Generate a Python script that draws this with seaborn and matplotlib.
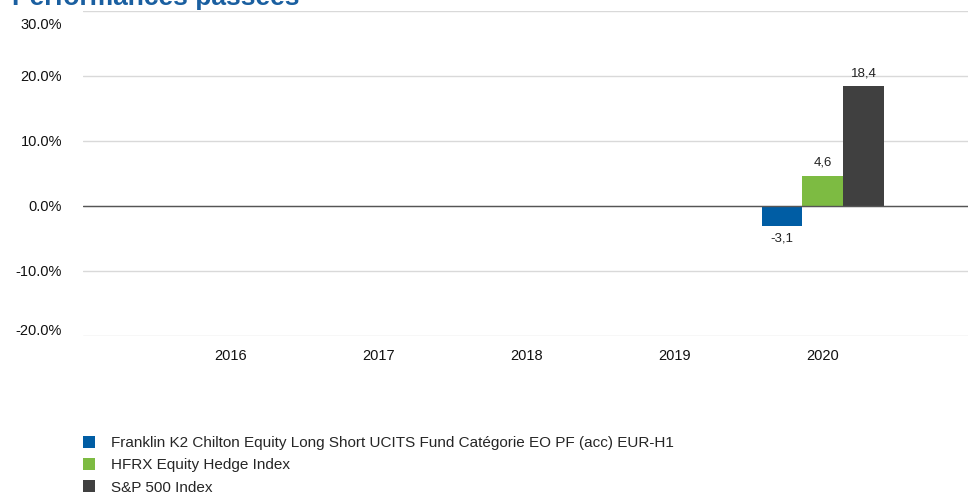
import numpy as np
import pandas as pd
import matplotlib
matplotlib.use("Agg")
import matplotlib.pyplot as plt
import matplotlib.transforms as mtransforms
from matplotlib.patches import Patch
import seaborn as sns

# data
years = ["2016", "2017", "2018", "2019", "2020"]
fund = [np.nan, np.nan, np.nan, np.nan, -3.1]
hfrx = [np.nan, np.nan, np.nan, np.nan, 4.6]
spx = [np.nan, np.nan, np.nan, np.nan, 18.4]
series_names = ["Franklin K2 Chilton Equity Long Short UCITS Fund Catégorie EO PF (acc) EUR-H1",
                "HFRX Equity Hedge Index",
                "S&P 500 Index"]
colors = ["#005DA4", "#7DBB42", "#404040"]
yticks = [-20, -10, 0, 10, 20, 30]

rows = []
for name, vals in zip(series_names, [fund, hfrx, spx]):
    for y, v in zip(years, vals):
        rows.append({"year": y, "series": name, "value": v})
df = pd.DataFrame(rows)

sns.set_style("white")
plt.rcParams["font.family"] = ["Liberation Sans", "DejaVu Sans"]

fig = plt.figure(figsize=(9.68, 4.94), dpi=100)
ax = fig.add_axes([0.0857, 0.3198, 0.9143, 0.658])

sns.barplot(data=df, x="year", y="value", hue="series", order=years,
            hue_order=series_names, palette=colors, width=0.83,
            saturation=1, errorbar=None, ax=ax, legend=False, linewidth=0)

# value labels, skipping empty years
for cont in ax.containers:
    labels = []
    for bar in cont:
        h = bar.get_height()
        labels.append("" if np.isnan(h) else f"{h:.1f}".replace(".", ","))
    ax.bar_label(cont, labels=labels, padding=5, fontsize=9.5, color="#222222")

ax.set_ylim(-20.05, 30)
ax.set_xlim(-1, 4.98)
ax.set_yticks(yticks)
ax.set_yticklabels([f"{t:.1f}%" for t in yticks])
ax.yaxis.grid(True, color="#d9d9d9", linewidth=1)
ax.set_axisbelow(True)
ax.axhline(0, color="#555555", linewidth=1, zorder=1)
for s in ax.spines.values():
    s.set_visible(False)
ax.tick_params(axis="y", length=0, pad=15, labelsize=10.5, labelcolor="#111111")
ax.tick_params(axis="x", length=0, pad=9, labelsize=10.5, labelcolor="#111111")
ax.set_xlabel("")
ax.set_ylabel("")

# edge labels are pulled inside the plot area, as in the reference
labs = ax.get_yticklabels()
labs[0].set_transform(labs[0].get_transform() +
                      mtransforms.ScaledTranslation(0, 6 / 100, fig.dpi_scale_trans))
labs[-1].set_transform(labs[-1].get_transform() +
                       mtransforms.ScaledTranslation(0, -13 / 100, fig.dpi_scale_trans))

# title cut off at the top like in the reference
fig.text(0.012, 0.99, "Performances passées", fontsize=19, fontweight="bold",
         color="#1A5FA0", va="baseline", ha="left")

handles = [Patch(facecolor=c, edgecolor="none") for c in colors]
fig.legend(handles, series_names, loc="upper left", bbox_to_anchor=(0.086, 0.117),
           frameon=False, fontsize=11, handlelength=0.8, handleheight=0.8,
           handletextpad=1.0, labelspacing=0.52, borderpad=0, borderaxespad=0)

fig.savefig("out.png", dpi=100)
